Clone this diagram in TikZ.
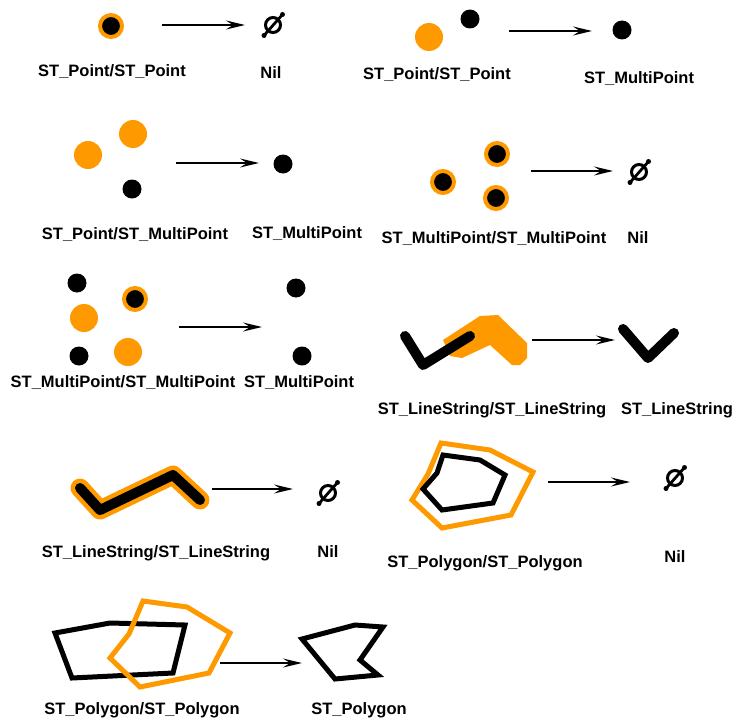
\documentclass[tikz,border=0pt]{standalone}
\usepackage{fontspec}
\setmainfont{Liberation Sans}
\usetikzlibrary{arrows.meta}
\definecolor{geoorange}{RGB}{255,153,0}

\begin{document}
\begin{tikzpicture}[x=1pt,y=-1pt,
  lbl/.style={font=\bfseries\fontsize{16.5}{18}\selectfont,inner sep=0pt,text height=12pt,text depth=0pt},
  conn/.style={-{Stealth[length=19pt,width=9pt,inset=7pt]},line width=1.3pt},
  bdot/.style={circle,fill=black,inner sep=0pt,minimum size=19pt},
  odot/.style={circle,fill=geoorange,inner sep=0pt,minimum size=28pt},
  rdot/.style={circle,fill=black,draw=geoorange,line width=4pt,inner sep=0pt,minimum size=22pt},
  bline/.style={line width=10pt,line cap=round,line join=round},
  bpoly/.style={line width=5pt,line join=miter},
  opoly/.style={bpoly,draw=geoorange},
  nil/.pic={
    \draw[line width=3pt] (0,0) circle (7.5pt);
    \draw[line width=2.8pt] (-9,10.5) -- (9.5,-10.5);
    \fill (-9,10.5) circle (2.5pt) (9.5,-10.5) circle (2.5pt);}]

\useasboundingbox (0,0) rectangle (733,717);

% Point / Point  ->  Nil
\node[rdot] (p1) at (111,26) {};
\coordinate (a1s) at (162,25);
\coordinate (a1e) at (245,25);
\draw[conn] (a1s) -- (a1e);
\pic at (273,25) {nil};
\node[lbl] (l1a) at (112,71) {ST\_Point/ST\_Point};
\node[lbl] (l1b) at (271,72) {Nil};

% Point / Point  ->  MultiPoint
\node[odot] (p2a) at (429,37) {};
\node[bdot] (p2b) at (470,19) {};
\coordinate (a2s) at (509,31);
\coordinate (a2e) at (592,31);
\draw[conn] (a2s) -- (a2e);
\node[bdot] (p2c) at (622,30) {};
\node[lbl] (l2a) at (437,73) {ST\_Point/ST\_Point};
\node[lbl] (l2b) at (639,77) {ST\_MultiPoint};

% Point / MultiPoint  ->  MultiPoint
\node[odot] (p3a) at (88,155) {};
\node[odot] (p3b) at (133,134) {};
\node[bdot] (p3c) at (132,189) {};
\coordinate (a3s) at (176,163);
\coordinate (a3e) at (259,163);
\draw[conn] (a3s) -- (a3e);
\node[bdot] (p3d) at (283,164) {};
\node[lbl] (l3a) at (135,233) {ST\_Point/ST\_MultiPoint};
\node[lbl] (l3b) at (307,232) {ST\_MultiPoint};

% MultiPoint / MultiPoint  ->  Nil
\node[rdot] (p4a) at (443,182) {};
\node[rdot] (p4b) at (497,154) {};
\node[rdot] (p4c) at (496,198) {};
\coordinate (a4s) at (531,171);
\coordinate (a4e) at (613,171);
\draw[conn] (a4s) -- (a4e);
\pic at (639,172) {nil};
\node[lbl] (l4a) at (494,237) {ST\_MultiPoint/ST\_MultiPoint};
\node[lbl] (l4b) at (638,237) {Nil};

% MultiPoint / MultiPoint  ->  MultiPoint
\node[bdot] (p5a) at (77,283) {};
\node[bdot] (p5b) at (79,356) {};
\node[rdot] (p5c) at (135,299) {};
\node[odot] (p5d) at (84,318) {};
\node[odot] (p5e) at (128,352) {};
\coordinate (a5s) at (179,327);
\coordinate (a5e) at (262,327);
\draw[conn] (a5s) -- (a5e);
\node[bdot] (p5f) at (296,288) {};
\node[bdot] (p5g) at (302,356) {};
\node[lbl] (l5a) at (123,381) {ST\_MultiPoint/ST\_MultiPoint};
\node[lbl] (l5b) at (299,381) {ST\_MultiPoint};

% LineString / LineString  ->  LineString
\fill[geoorange] (443,340) -- (480,316) -- (498,315) -- (527,343) -- (527,358)
  -- (520,365) -- (512,365) -- (490,345) -- (462,358) -- (450,356) -- cycle;
\draw[bline] (405,336) -- (423,365) -- (470,336);
\coordinate (a6s) at (532,340);
\coordinate (a6e) at (615,340);
\draw[conn] (a6s) -- (a6e);
\draw[bline] (623,329) -- (648,358) -- (674,333);
\node[lbl] (l6a) at (492,408) {ST\_LineString/ST\_LineString};
\node[lbl] (l6b) at (677,408) {ST\_LineString};

% LineString / LineString  ->  Nil
\draw[bline,geoorange,line width=19pt] (80,488) -- (100,510) -- (173,475) -- (200,500);
\draw[bline] (80,488) -- (100,510) -- (173,475) -- (200,500);
\coordinate (a7s) at (212,489);
\coordinate (a7e) at (293,489);
\draw[conn] (a7s) -- (a7e);
\pic at (328,493) {nil};
\node[lbl] (l7a) at (156,551) {ST\_LineString/ST\_LineString};
\node[lbl] (l7b) at (328,551) {Nil};

% Polygon / Polygon  ->  Nil
\draw[opoly] (441,443) -- (490,450) -- (533,472) -- (511,515) -- (442,528)
  -- (412,500) -- (428,474) -- cycle;
\draw[bpoly] (443,455) -- (480,460) -- (505,475) -- (493,503) -- (442,510)
  -- (423,489) -- (437,473) -- cycle;
\coordinate (a8s) at (548,482);
\coordinate (a8e) at (630,482);
\draw[conn] (a8s) -- (a8e);
\pic at (675,478) {nil};
\node[lbl] (l8a) at (485,561) {ST\_Polygon/ST\_Polygon};
\node[lbl] (l8b) at (675,556) {Nil};

% Polygon / Polygon  ->  Polygon
\draw[bpoly] (55,633) -- (110,623) -- (185,625) -- (173,673) -- (72,678) -- cycle;
\draw[opoly] (143,601) -- (187,607) -- (230,633) -- (209,673) -- (140,687)
  -- (110,658) -- (129,634) -- cycle;
\coordinate (a9s) at (220,663);
\coordinate (a9e) at (302,663);
\draw[conn] (a9s) -- (a9e);
\draw[bpoly] (302,639) -- (355,625) -- (383,627) -- (360,660) -- (378,675)
  -- (335,679) -- cycle;
\node[lbl] (l9a) at (142,708) {ST\_Polygon/ST\_Polygon};
\node[lbl] (l9b) at (359,708) {ST\_Polygon};
\end{tikzpicture}
\end{document}
